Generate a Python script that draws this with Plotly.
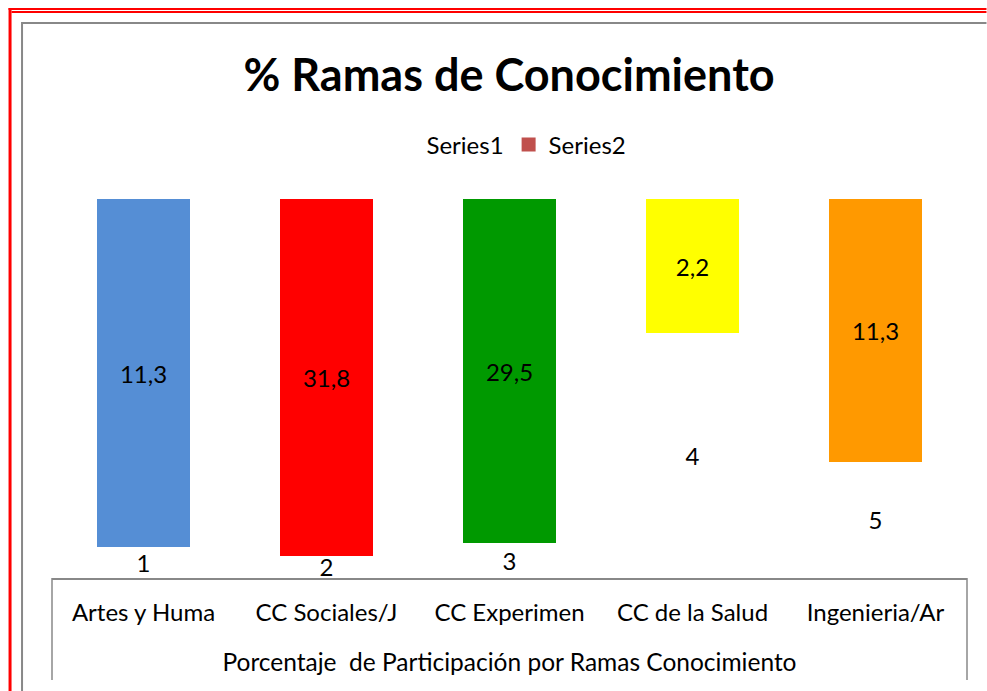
import plotly.graph_objects as go

categories = ["Artes y Huma", "CC Sociales/J", "CC Experimen", "CC de la Salud", "Ingenieria/Ar"]
series1 = [1, 2, 3, 4, 5]
series2 = [11.3, 31.8, 29.5, 2.2, 11.3]
series2_colors = ["#558ED5", "#FF0000", "#009900", "#FFFF00", "#FF9900"]
legend_color_series2 = "#C0504D"

title_text = "% Ramas de Conocimiento"
xaxis_title = "Porcentaje  de Participación por Ramas Conocimiento"

W, H = 987, 691
L, R, T, B = 51.5, 19.5, 199, 113
PW = W - L - R
PH = H - T - B

def xp(px):
    return (px - L) / PW

def yp(py):
    return (H - B - py) / PH

FONT = "Lato"
FS = 24

fig = go.Figure()
fig.add_trace(go.Bar(
    x=categories, y=series2, name="Series2", showlegend=False,
    marker=dict(color=series2_colors, line=dict(width=0)),
    text=[f"{v:.1f}".replace(".", ",") for v in series2],
    texttemplate="%{text}", textposition="inside", insidetextanchor="middle", textangle=0,
    textfont=dict(color="black", size=FS, family=FONT), constraintext="none",
))
fig.add_trace(go.Bar(
    x=categories, y=series1, name="Series1",
    marker=dict(color="rgba(0,0,0,0)", line=dict(width=0)),
    text=[str(v) for v in series1],
    texttemplate="%{text}", textposition="inside", insidetextanchor="middle", textangle=0,
    textfont=dict(color="black", size=FS, family=FONT), constraintext="none",
))
fig.add_trace(go.Scatter(
    x=[categories[0]], y=[None], name="Series2", mode="markers",
    marker=dict(color=legend_color_series2, symbol="square", size=14), showlegend=True,
))

shapes = []
red = "#FF0000"
gray = "#888888"
shapes.append(dict(type="line", xref="paper", yref="paper", x0=xp(8), x1=xp(987), y0=yp(9), y1=yp(9), line=dict(color=red, width=2)))
shapes.append(dict(type="line", xref="paper", yref="paper", x0=xp(11), x1=xp(987), y0=yp(12), y1=yp(12), line=dict(color=red, width=2)))
shapes.append(dict(type="line", xref="paper", yref="paper", x0=xp(9.5), x1=xp(9.5), y0=yp(8), y1=yp(691), line=dict(color=red, width=3)))
shapes.append(dict(type="line", xref="paper", yref="paper", x0=xp(21.5), x1=xp(987), y0=yp(23), y1=yp(23), line=dict(color=gray, width=2)))
shapes.append(dict(type="line", xref="paper", yref="paper", x0=xp(21.5), x1=xp(21.5), y0=yp(22), y1=yp(691), line=dict(color=gray, width=2)))
shapes.append(dict(type="line", xref="paper", yref="paper", x0=0, x1=0, y0=0, y1=yp(680), line=dict(color=gray, width=1.5)))
shapes.append(dict(type="line", xref="paper", yref="paper", x0=1, x1=1, y0=0, y1=yp(680), line=dict(color=gray, width=1.5)))

fig.update_layout(
    width=W, height=H,
    margin=dict(l=L, r=R, t=T, b=B, pad=0),
    paper_bgcolor="white", plot_bgcolor="white",
    barmode="stack", barnorm="percent", bargap=0.49,
    font=dict(family=FONT, color="black", size=FS),
    title=dict(text=f"<b>{title_text}</b>", xref="container", x=509 / W, xanchor="center",
               y=1 - 75 / H, yanchor="middle", yref="container",
               font=dict(size=45, family=FONT, color="black")),
    legend=dict(orientation="h", x=xp(509), xanchor="center", y=yp(145), yanchor="middle",
                traceorder="normal", itemwidth=30, font=dict(size=FS, family=FONT),
                bgcolor="rgba(0,0,0,0)"),
    xaxis=dict(showline=True, linecolor=gray, linewidth=1.5, showgrid=False, ticks="",
               ticklabelstandoff=12, tickfont=dict(size=FS, family=FONT),
               title=dict(text=xaxis_title, standoff=29, font=dict(size=24.5, family=FONT))),
    yaxis=dict(range=[100, 0], visible=False, showgrid=False),
    shapes=shapes,
)

fig.write_html("out.html", config={"displayModeBar": False},
               post_script="document.body.style.margin='0';document.body.style.padding='0';")
